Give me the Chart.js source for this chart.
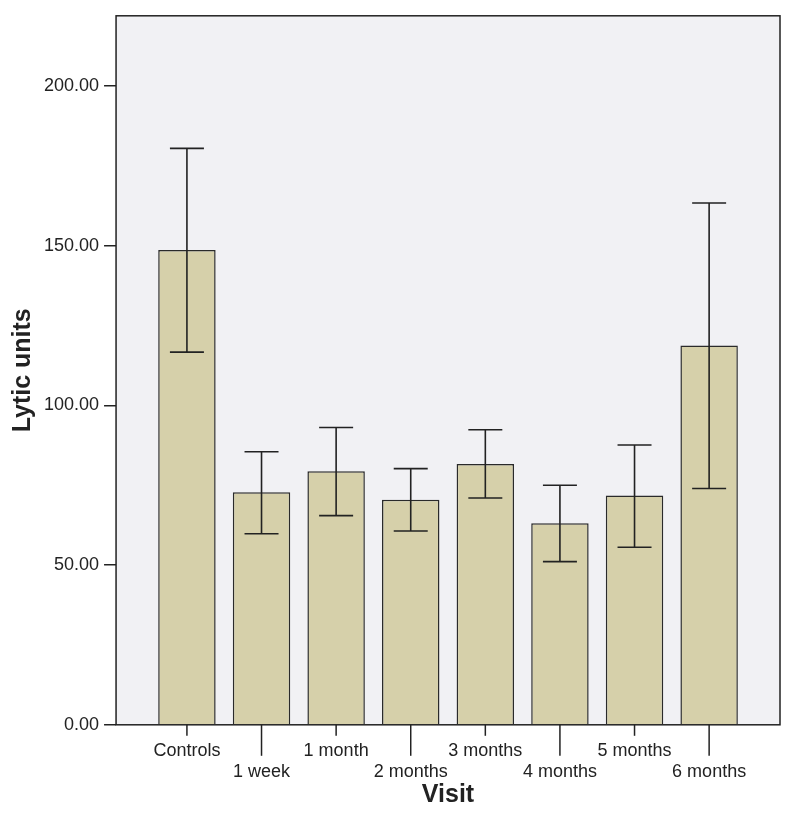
<!DOCTYPE html>
<html>
<head>
<meta charset="utf-8">
<script src="https://cdn.jsdelivr.net/npm/chart.js@4"></script>
<style>
  body { margin: 0; background: #fff; }
  #wrap { width: 795px; height: 819px; }
</style>
</head>
<body>
<div id="wrap"><canvas id="lyticChart" width="795" height="819"></canvas></div>
<script>
// values
const visits = ['Controls', '1 week', '1 month', '2 months', '3 months', '4 months', '5 months', '6 months'];
const meanLytic = [148.7, 72.8, 79.4, 70.5, 81.7, 63.1, 71.8, 118.8];
const errLow = [116.7, 59.8, 65.5, 60.7, 71.0, 51.1, 55.6, 74.0];
const errHigh = [180.5, 85.5, 93.1, 80.2, 92.4, 75.0, 87.6, 163.4];
const yTicks = [0, 50, 100, 150, 200];

const ink = '#222222';
const fontFamily = '"Liberation Sans", Arial, sans-serif';

// grey plot background + frame
const framePlugin = {
    id: 'frame',
    beforeDraw(chart) {
        const a = chart.chartArea, ctx = chart.ctx;
        ctx.save();
        ctx.fillStyle = '#f1f1f4';
        ctx.fillRect(a.left, a.top, a.right - a.left, a.bottom - a.top);
        ctx.restore();
    },
    afterDraw(chart) {
        const a = chart.chartArea, ctx = chart.ctx;
        ctx.save();
        ctx.strokeStyle = ink;
        ctx.lineWidth = 1.5;
        ctx.strokeRect(a.left, a.top, a.right - a.left, a.bottom - a.top);
        // staggered x tick marks
        const xs = chart.scales.x;
        visits.forEach((_, i) => {
            const x = xs.getPixelForValue(i);
            ctx.beginPath();
            ctx.moveTo(x, a.bottom);
            ctx.lineTo(x, a.bottom + (i % 2 ? 31 : 11));
            ctx.stroke();
        });
        ctx.restore();
    }
};

// error bars drawn on top of the bars
const errorBarPlugin = {
    id: 'errorBars',
    afterDatasetsDraw(chart) {
        const ctx = chart.ctx, ys = chart.scales.y;
        const meta = chart.getDatasetMeta(0);
        ctx.save();
        ctx.strokeStyle = ink;
        ctx.lineWidth = 1.6;
        meta.data.forEach((bar, i) => {
            const x = bar.x;
            const yLo = ys.getPixelForValue(errLow[i]);
            const yHi = ys.getPixelForValue(errHigh[i]);
            ctx.beginPath();
            ctx.moveTo(x, yLo); ctx.lineTo(x, yHi);
            ctx.moveTo(x - 17, yHi); ctx.lineTo(x + 17, yHi);
            ctx.moveTo(x - 17, yLo); ctx.lineTo(x + 17, yLo);
            ctx.stroke();
        });
        ctx.restore();
    }
};

const ctx = document.getElementById('lyticChart').getContext('2d');
new Chart(ctx, {
    type: 'bar',
    data: {
        datasets: [{
            label: 'Lytic units',
            data: meanLytic.map((v, i) => ({ x: i, y: v })),
            backgroundColor: '#d6d0aa',
            borderColor: '#2a2a2a',
            borderWidth: 1.5,
            barPercentage: 0.77,
            categoryPercentage: 1
        }]
    },
    options: {
        responsive: false,
        animation: false,
        layout: { padding: { left: 2, right: 15, top: 13, bottom: 0 } },
        plugins: {
            legend: { display: false },
            tooltip: { enabled: false }
        },
        scales: {
            x: {
                type: 'linear',
                offset: false,
                min: -0.95,
                max: 7.95,
                grid: { display: false },
                border: { display: false },
                ticks: {
                    stepSize: 1,
                    autoSkip: false,
                    maxRotation: 0,
                    includeBounds: false,
                    padding: 7,
                    color: ink,
                    font: { family: fontFamily, size: 18 },
                    callback: (v) => {
                        const i = Math.round(v);
                        if (i !== v || i < 0 || i >= visits.length) return '';
                        return i % 2 ? ['', visits[i]] : visits[i];
                    }
                },
                afterBuildTicks: (scale) => {
                    scale.ticks = visits.map((_, i) => ({ value: i }));
                },
                title: {
                    display: true,
                    text: 'Visit',
                    color: ink,
                    font: { family: fontFamily, size: 25, weight: 'bold', lineHeight: 1 },
                    padding: { top: -7, bottom: 11 }
                }
            },
            y: {
                min: 0,
                max: 222,
                grid: { drawOnChartArea: false, tickLength: 12, color: ink, lineWidth: 1.5 },
                border: { display: false },
                afterBuildTicks: (scale) => {
                    scale.ticks = yTicks.map(v => ({ value: v }));
                },
                ticks: {
                    padding: 5,
                    color: ink,
                    font: { family: fontFamily, size: 18 },
                    callback: (v) => Number(v).toFixed(2)
                },
                title: {
                    display: true,
                    text: 'Lytic units',
                    color: ink,
                    font: { family: fontFamily, size: 25, weight: 'bold', lineHeight: 1.2 },
                    padding: { top: 6, bottom: 1 }
                }
            }
        }
    },
    plugins: [framePlugin, errorBarPlugin]
});
</script>
</body>
</html>
